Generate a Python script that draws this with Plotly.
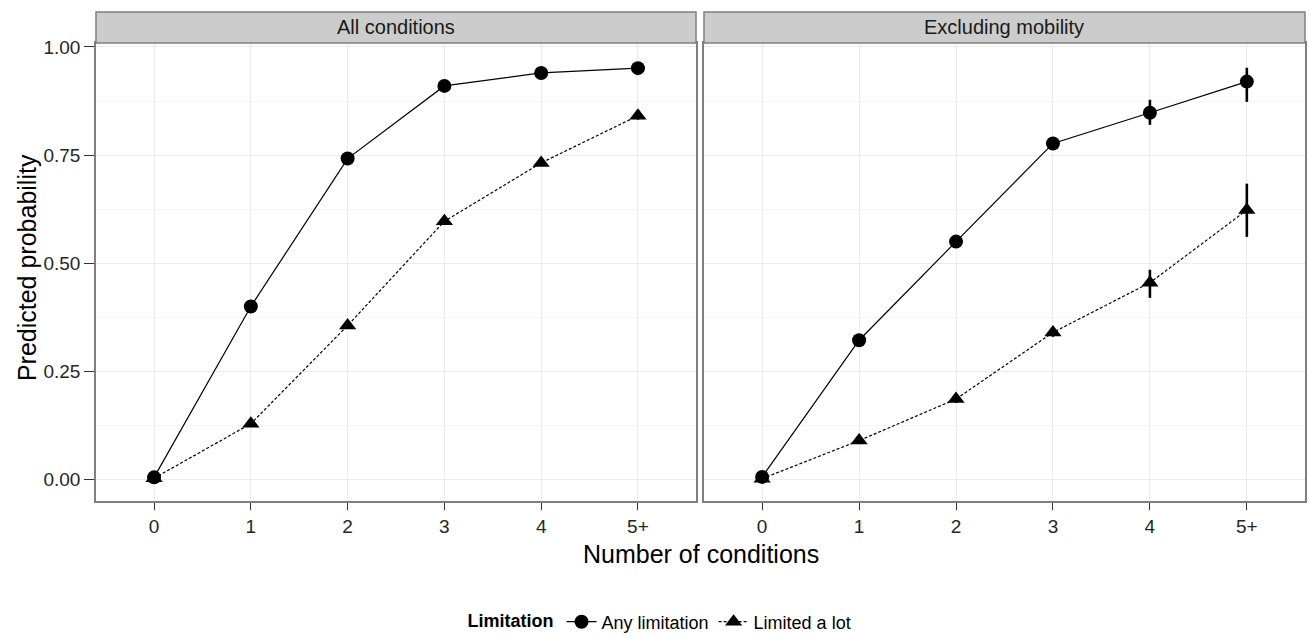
import plotly.graph_objects as go

categories = ["0", "1", "2", "3", "4", "5+"]
panels = ["All conditions", "Excluding mobility"]

all_any = [0.005, 0.40, 0.742, 0.91, 0.94, 0.951]
all_any_lo = [0.0, 0.39, 0.735, 0.905, 0.935, 0.945]
all_any_hi = [0.01, 0.41, 0.749, 0.915, 0.945, 0.957]
all_lot = [0.003, 0.129, 0.356, 0.597, 0.732, 0.841]
all_lot_lo = [0.0, 0.122, 0.349, 0.59, 0.725, 0.832]
all_lot_hi = [0.006, 0.136, 0.363, 0.604, 0.739, 0.85]

exm_any = [0.006, 0.322, 0.55, 0.777, 0.848, 0.92]
exm_any_lo = [0.0, 0.312, 0.54, 0.767, 0.82, 0.873]
exm_any_hi = [0.012, 0.332, 0.56, 0.787, 0.878, 0.952]
exm_lot = [0.002, 0.09, 0.186, 0.34, 0.455, 0.623]
exm_lot_lo = [0.0, 0.083, 0.177, 0.33, 0.42, 0.561]
exm_lot_hi = [0.005, 0.097, 0.195, 0.35, 0.485, 0.684]

y_ticks = [0, 0.25, 0.5, 0.75, 1.0]
y_tick_labels = ["0.00", "0.25", "0.50", "0.75", "1.00"]

FONT = "Liberation Sans Narrow, Arial Narrow, Liberation Sans, Arial, sans-serif"

fig = go.Figure()

def add_series(y, lo, hi, name, symbol, dash, xaxis, yaxis, show):
    fig.add_trace(go.Scatter(
        x=categories, y=y, name=name, mode="lines+markers",
        xaxis=xaxis, yaxis=yaxis, showlegend=show, legendgroup=name,
        line=dict(color="black", width=1.2, dash=dash),
        marker=dict(symbol=symbol, size=14 if symbol == "circle" else 15, color="black",
                    line=dict(width=0)),
        error_y=dict(type="data", symmetric=False,
                     array=[h - v for h, v in zip(hi, y)],
                     arrayminus=[v - l for v, l in zip(y, lo)],
                     color="black", thickness=2.6, width=0),
    ))

add_series(all_any, all_any_lo, all_any_hi, "Any limitation", "circle", "solid", "x", "y", True)
add_series(all_lot, all_lot_lo, all_lot_hi, "Limited a lot", "triangle-up", "3px,2px", "x", "y", True)
add_series(exm_any, exm_any_lo, exm_any_hi, "Any limitation", "circle", "solid", "x2", "y2", False)
add_series(exm_lot, exm_lot_lo, exm_lot_hi, "Limited a lot", "triangle-up", "3px,2px", "x2", "y2", False)

W, H = 1309, 638
ml, mr, mt, mb = 96, 2, 12, 137
pw = W - ml - mr
ph = H - mt - mb
left_dom = [0, 601 / pw]
right_dom = [609 / pw, 1]
ytop = 458 / ph

xcommon = dict(type="category", categoryorder="array", categoryarray=categories,
               range=[-0.6, 5.6], showgrid=True, gridcolor="#EBEBEB", gridwidth=1,
               showline=True, mirror=True, linecolor="#7F7F7F", linewidth=1.5,
               ticks="outside", ticklen=7, tickcolor="#333333", tickwidth=1.2,
               tickfont=dict(family=FONT, size=19, color="#262626"), zeroline=False,
               fixedrange=True)
ycommon = dict(range=[-0.0497, 1.0092], tickvals=y_ticks, showgrid=True,
               gridcolor="#EBEBEB", gridwidth=1,
               minor=dict(tickvals=[0.125, 0.375, 0.625, 0.875], showgrid=True,
                          gridcolor="#F7F7F7", gridwidth=1, ticks=""),
               showline=True, mirror=True, linecolor="#7F7F7F", linewidth=1.5,
               zeroline=False, domain=[0, ytop], fixedrange=True)

fig.update_layout(
    width=W, height=H,
    margin=dict(l=ml, r=mr, t=mt, b=mb),
    paper_bgcolor="white", plot_bgcolor="white",
    font=dict(family=FONT, color="black"),
    xaxis=dict(domain=left_dom, anchor="y", **xcommon),
    xaxis2=dict(domain=right_dom, anchor="y2", **xcommon),
    yaxis=dict(anchor="x", ticks="outside", ticklen=10, tickcolor="#333333", tickwidth=1.2,
               ticktext=y_tick_labels, tickfont=dict(family=FONT, size=19, color="#262626"),
               **ycommon),
    yaxis2=dict(anchor="x2", showticklabels=False, ticks="", **ycommon),
    legend=dict(orientation="h", xref="container", yref="container",
                x=0.505, xanchor="center", y=1 - 622 / H, yanchor="middle",
                title=dict(text="<b>Limitation</b>", font=dict(family=FONT, size=18)),
                font=dict(family=FONT, size=18, color="black"),
                itemwidth=30, tracegroupgap=0),
    showlegend=True,
)

# strips
for dom, label in zip([left_dom, right_dom], panels):
    fig.add_shape(type="rect", xref="paper", yref="paper",
                  x0=dom[0], x1=dom[1], y0=ytop, y1=1,
                  fillcolor="#CCCCCC", line=dict(color="#7F7F7F", width=1.5), layer="above")
    fig.add_annotation(xref="paper", yref="paper", x=(dom[0] + dom[1]) / 2,
                       y=(ytop + 1) / 2, text=label, showarrow=False,
                       font=dict(family=FONT, size=20, color="#1A1A1A"),
                       xanchor="center", yanchor="middle")

# axis titles
fig.add_annotation(xref="paper", yref="paper", x=0.5, y=-(554 - (H - mb)) / ph,
                   text="Number of conditions", showarrow=False,
                   font=dict(family=FONT, size=25, color="black"),
                   xanchor="center", yanchor="middle")
fig.add_annotation(xref="paper", yref="paper", x=-(96 - 27) / pw, y=(501 - 268) / ph,
                   text="Predicted probability", showarrow=False, textangle=-90,
                   font=dict(family=FONT, size=25, color="black"),
                   xanchor="center", yanchor="middle")

fig.write_html("out.html", config={"displayModeBar": False},
               post_script="document.body.style.margin='0';document.body.style.overflow='hidden';")
